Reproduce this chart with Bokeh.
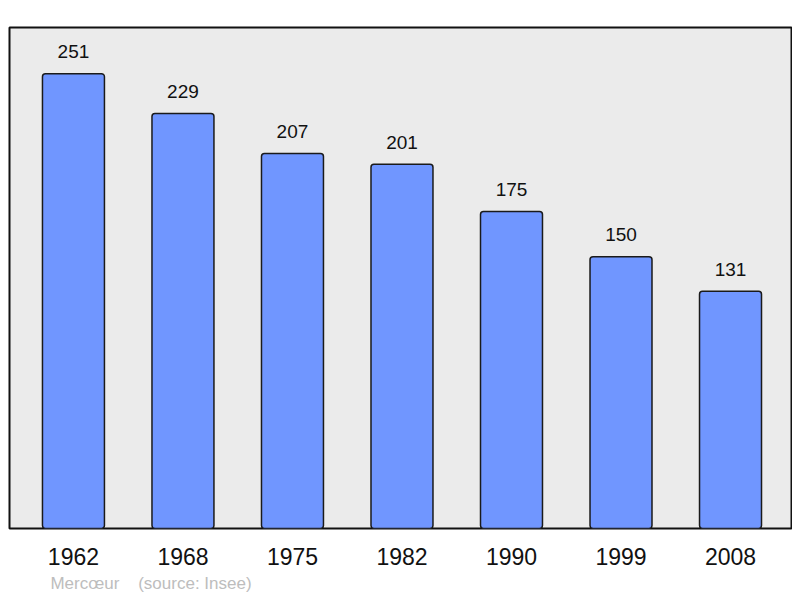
from bokeh.plotting import figure
from bokeh.models import ColumnDataSource, Range1d, FixedTicker, LinearAxis
from bokeh.core.properties import value
from bokeh.embed import file_html
from bokeh.resources import INLINE

years = ["1962", "1968", "1975", "1982", "1990", "1999", "2008"]
population = [251, 229, 207, 201, 175, 150, 131]
caption = "Mercœur\u00a0\u00a0\u00a0\u00a0(source: Insee)"

idx = list(range(len(years)))
src = ColumnDataSource(dict(x=idx, top=population, label=[str(v) for v in population]))

p = figure(width=792, height=596, output_backend="svg", toolbar_location=None,
           x_range=Range1d(-0.584, 6.566), y_range=Range1d(0, 276.5),
           min_border_left=9, min_border_right=0, min_border_top=27, min_border_bottom=68)
p.background_fill_color = "#ebebeb"
p.border_fill_color = "white"
p.outline_line_color = "#111111"
p.outline_line_width = 2
p.grid.visible = False
p.yaxis.visible = False

p.vbar(x="x", top="top", bottom=0, width=0.566, source=src,
       fill_color="#7096ff", line_color="#1a1a1a", line_width=1.5,
       border_radius=3)
p.text(x="x", y="top", text="label", source=src, text_align="center",
       text_baseline="alphabetic", y_offset=-22, text_font=value("Liberation Sans"),
       text_font_size="19px", text_color="#111111")

ax = p.xaxis[0]
ax.ticker = FixedTicker(ticks=idx)
ax.major_label_overrides = {i: y for i, y in zip(idx, years)}
ax.axis_line_color = None
ax.major_tick_line_color = None
ax.minor_tick_line_color = None
ax.major_label_standoff = 13
ax.major_label_text_font = "Liberation Sans"
ax.major_label_text_font_size = "23px"
ax.major_label_text_color = "#111111"

cap_x = 0.708
cap = LinearAxis(ticker=FixedTicker(ticks=[cap_x]),
                 major_label_overrides={cap_x: caption},
                 axis_line_color=None, major_tick_line_color=None,
                 minor_tick_line_color=None, major_label_standoff=0,
                 major_label_text_font="Liberation Sans",
                 major_label_text_font_size="17px",
                 major_label_text_color="#bdbdbd")
p.add_layout(cap, "below")

open("out.html", "w").write(file_html(p, INLINE))
